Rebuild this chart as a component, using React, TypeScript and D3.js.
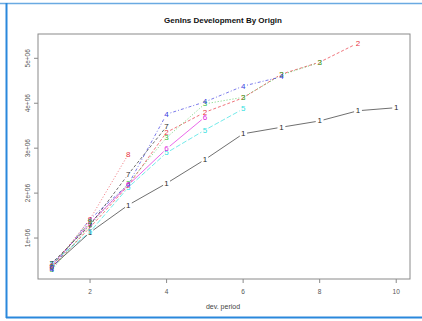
import React from 'react';
import * as d3 from 'd3';

// GenIns cumulative claims by origin year, dev periods 1..10
const origin1 = [357848, 1124788, 1735330, 2218270, 2745596, 3319994, 3466336, 3606286, 3833515, 3901463];
const origin2 = [352118, 1236139, 2170033, 3353322, 3799067, 4120063, 4647867, 4914039, 5339085];
const origin3 = [290507, 1292306, 2218525, 3235179, 3985995, 4132918, 4628910, 4909315];
const origin4 = [310608, 1418858, 2195047, 3757447, 4029929, 4381982, 4588268];
const origin5 = [443160, 1136350, 2128333, 2897821, 3402672, 3873311];
const origin6 = [396132, 1333217, 2180715, 2985752, 3691712];
const origin7 = [440832, 1288463, 2419861, 3483130];
const origin8 = [359480, 1421128, 2864498];
const origin9 = [376686, 1363294];
const origin10 = [344014];

const origins = [origin1, origin2, origin3, origin4, origin5, origin6, origin7, origin8, origin9, origin10];
const pointLabels = ['1', '2', '3', '4', '5', '6', '7', '8', '9', '0'];
const xTicks = [2, 4, 6, 8, 10];
const yTicks = [1e6, 2e6, 3e6, 4e6, 5e6];
const yTickLabels = ['1e+06', '2e+06', '3e+06', '4e+06', '5e+06'];

const palette = ['#2a2a2a', '#e8333d', '#2fbf3a', '#3a3ae0', '#2fe0e0', '#e020e0'];
const dashes = [null, '3,2', '1,2', '1,2,3,2', '5,2'];

const W = 422;
const H = 321;
const plot = { left: 38, right: 410, top: 34, bottom: 279 };

export default function App() {
  const allY = origins.flat();
  const yMin = d3.min(allY) as number;
  const yMax = d3.max(allY) as number;
  const yPad = (yMax - yMin) * 0.04;
  const xPad = 9 * 0.04;

  const x = d3.scaleLinear().domain([1 - xPad, 10 + xPad]).range([plot.left, plot.right]);
  const y = d3.scaleLinear().domain([yMin - yPad, yMax + yPad]).range([plot.bottom, plot.top]);

  const gap = 4;
  const font = 'Liberation Sans, Arial, sans-serif';

  const series = origins.map((vals, i) => {
    const col = palette[i % 6];
    const dash = dashes[i % 5];
    const pts = vals.map((v, j) => [x(j + 1), y(v)]);
    const segs = [];
    for (let j = 0; j < pts.length - 1; j++) {
      const [x1, y1] = pts[j];
      const [x2, y2] = pts[j + 1];
      const len = Math.hypot(x2 - x1, y2 - y1);
      if (len <= gap * 2) continue;
      const ux = (x2 - x1) / len;
      const uy = (y2 - y1) / len;
      segs.push(
        <line
          key={j}
          x1={x1 + ux * gap}
          y1={y1 + uy * gap}
          x2={x2 - ux * gap}
          y2={y2 - uy * gap}
          stroke={col}
          strokeWidth={0.75}
          strokeOpacity={0.9}
          strokeDasharray={dash || undefined}
        />
      );
    }
    return (
      <g key={i}>
        {segs}
        {pts.map(([px, py], j) => (
          <text
            key={'p' + j}
            x={px}
            y={py}
            fill={col}
            fontSize={8}
            textAnchor="middle"
            dominantBaseline="central"
            fontFamily={font}
          >
            {pointLabels[i]}
          </text>
        ))}
      </g>
    );
  });

  return (
    <svg width={W} height={H} style={{ position: 'absolute', left: 0, top: 0, background: '#fff' }}>
      {/* window frame */}
      <line x1={0} y1={3.5} x2={W} y2={3.5} stroke="#6aaae2" strokeWidth={1.5} />
      <line x1={6.5} y1={3} x2={6.5} y2={318} stroke="#2a88dc" strokeWidth={2} />
      <line x1={6} y1={317.5} x2={W} y2={317.5} stroke="#2a88dc" strokeWidth={2} />

      <text x={223} y={23} textAnchor="middle" fontSize={8} fontWeight="bold" fontFamily={font} fill="#111">
        GenIns Development By Origin
      </text>

      <rect
        x={plot.left}
        y={plot.top}
        width={plot.right - plot.left}
        height={plot.bottom - plot.top}
        fill="none"
        stroke="#8a8a8a"
        strokeWidth={1}
      />

      {xTicks.map(t => (
        <g key={t}>
          <line x1={x(t)} x2={x(t)} y1={plot.bottom} y2={plot.bottom + 4} stroke="#8a8a8a" />
          <text x={x(t)} y={294} textAnchor="middle" fontSize={6.5} fontFamily={font} fill="#555">
            {t}
          </text>
        </g>
      ))}

      {yTicks.map((t, i) => (
        <g key={t}>
          <line x1={plot.left - 4} x2={plot.left} y1={y(t)} y2={y(t)} stroke="#8a8a8a" />
          <text
            transform={`translate(30,${y(t)}) rotate(-90)`}
            textAnchor="middle"
            fontSize={6.5}
            fontFamily={font}
            fill="#555"
          >
            {yTickLabels[i]}
          </text>
        </g>
      ))}

      <text x={223} y={309} textAnchor="middle" fontSize={7} fontFamily={font} fill="#444">
        dev. period
      </text>

      {series}
    </svg>
  );
}
